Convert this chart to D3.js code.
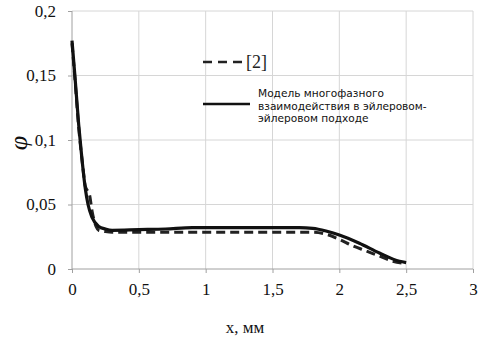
<!DOCTYPE html>
<html><head><meta charset="utf-8">
<script src="https://cdn.jsdelivr.net/npm/d3@7"></script>
<style>body{margin:0;background:#fff}svg{display:block}</style>
</head><body>
<svg id="c" width="480" height="341"></svg>
<script>
const xTicks = [0, 0.5, 1, 1.5, 2, 2.5, 3];
const xTickLabels = ["0", "0,5", "1", "1,5", "2", "2,5", "3"];
const yTicks = [0, 0.05, 0.1, 0.15, 0.2];
const yTickLabels = ["0", "0,05", "0,1", "0,15", "0,2"];

const modelX = [0, 0.02, 0.05, 0.07, 0.1, 0.12, 0.15, 0.2, 0.25, 0.3, 0.5, 0.7, 0.9, 1.1, 1.3, 1.5, 1.7, 1.8, 1.9, 2.0, 2.15, 2.3, 2.45, 2.5];
const modelY = [0.177, 0.152, 0.112, 0.09, 0.062, 0.05, 0.04, 0.033, 0.031, 0.030, 0.0305, 0.031, 0.032, 0.032, 0.032, 0.032, 0.032, 0.0315, 0.0295, 0.0264, 0.020, 0.0124, 0.006, 0.005];

const refX = [0, 0.02, 0.05, 0.08, 0.1, 0.12, 0.13, 0.15, 0.18, 0.2, 0.25, 0.3, 0.6, 0.9, 1.2, 1.5, 1.8, 1.9, 2.0, 2.1, 2.2, 2.3, 2.4, 2.5];
const refY = [0.175, 0.15, 0.11, 0.08, 0.064, 0.06, 0.058, 0.045, 0.033, 0.03, 0.029, 0.0285, 0.0285, 0.0285, 0.0285, 0.0285, 0.0285, 0.027, 0.023, 0.018, 0.014, 0.010, 0.006, 0.004];

const legendRef = "[2]";
const legendModel = ["Модель многофазного", "взаимодействия в эйлеровом-", "эйлеровом подходе"];

const svg = d3.select("#c");
const x = d3.scaleLinear().domain([0, 3]).range([72, 473]);
const y = d3.scaleLinear().domain([0, 0.2]).range([269, 11]);
const serif = "'Liberation Serif', 'Times New Roman', serif";

// grid
svg.append("g").selectAll("line.v").data(xTicks.slice(1)).join("line")
  .attr("x1", d => x(d)).attr("x2", d => x(d)).attr("y1", y(0)).attr("y2", y(0.2))
  .attr("stroke", "#d6d6d6").attr("stroke-width", 1);
svg.append("g").selectAll("line.h").data(yTicks.slice(1)).join("line")
  .attr("x1", x(0)).attr("x2", x(3)).attr("y1", d => y(d)).attr("y2", d => y(d))
  .attr("stroke", "#d6d6d6").attr("stroke-width", 1);

// axes
const xAxis = svg.append("g").attr("transform", `translate(0,${y(0)})`)
  .call(d3.axisBottom(x).tickValues(xTicks).tickFormat((d, i) => xTickLabels[i]).tickSize(4).tickPadding(10));
const yAxis = svg.append("g").attr("transform", `translate(${x(0)},0)`)
  .call(d3.axisLeft(y).tickValues(yTicks).tickFormat((d, i) => yTickLabels[i]).tickSize(4).tickPadding(12));
[xAxis, yAxis].forEach(a => {
  a.attr("font-family", null);
  a.select(".domain").attr("stroke", "#a0a0a0");
  a.selectAll(".tick line").attr("stroke", "#a0a0a0");
  a.selectAll("text").style("font-family", serif).style("font-size", "17px").attr("fill", "#111");
});
xAxis.select(".domain").attr("d", `M${x(0)},0H${x(3)}`);
yAxis.select(".domain").attr("d", `M0,${y(0)}V${y(0.2)}`);

// lines
const line = d3.line().x(d => x(d[0])).y(d => y(d[1])).curve(d3.curveMonotoneX);
svg.append("path").datum(refX.map((v, i) => [v, refY[i]]))
  .attr("d", line).attr("fill", "none").attr("stroke", "#222").attr("stroke-width", 3)
  .attr("stroke-dasharray", "9,5");
svg.append("path").datum(modelX.map((v, i) => [v, modelY[i]]))
  .attr("d", line).attr("fill", "none").attr("stroke", "#111").attr("stroke-width", 3.2);

// legend
svg.append("line").attr("x1", 203).attr("x2", 245).attr("y1", 62).attr("y2", 62)
  .attr("stroke", "#222").attr("stroke-width", 2.5).attr("stroke-dasharray", "9,6");
svg.append("text").attr("x", 246).attr("y", 68).text(legendRef)
  .style("font-family", serif).style("font-size", "18px").attr("fill", "#222");
svg.append("line").attr("x1", 203).attr("x2", 250).attr("y1", 104).attr("y2", 104)
  .attr("stroke", "#111").attr("stroke-width", 2.5);
svg.append("g").selectAll("text").data(legendModel).join("text")
  .attr("x", 258).attr("y", (d, i) => 97 + i * 12.5).text(d => d)
  .style("font-family", "'DejaVu Sans', Verdana, sans-serif").style("font-size", "10.6px").attr("fill", "#111");

// axis titles
svg.append("text").attr("x", 245).attr("y", 333).attr("text-anchor", "middle")
  .style("font-family", serif).style("font-size", "17px").attr("fill", "#111").text("x, мм");
svg.append("text").attr("transform", "translate(27,143) rotate(-90)").attr("text-anchor", "middle")
  .style("font-family", serif).style("font-style", "italic").style("font-size", "26px").attr("fill", "#111").text("φ");
</script>
</body></html>
